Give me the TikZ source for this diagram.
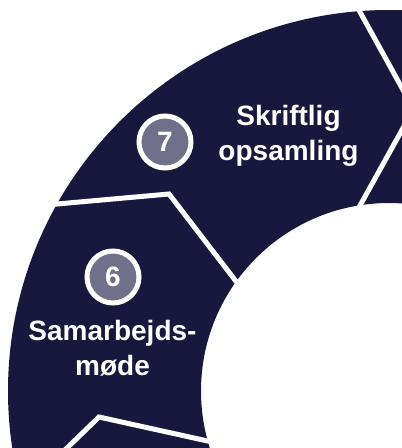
\documentclass[tikz,border=0pt]{standalone}
\usepackage{fontspec}
\setsansfont{Liberation Sans}

\definecolor{ringblue}{RGB}{24,23,62}
\definecolor{stepgrey}{RGB}{113,112,138}

\begin{document}
\begin{tikzpicture}[x=1pt,y=-1pt,
        num/.style = {circle,draw = white,line width = 5pt,fill = stepgrey,text = white,minimum size = 52pt,inner sep = 0pt,font = \sffamily\bfseries\fontsize{28}{35}\selectfont},
        lbl/.style = {align = center,anchor = base,text = white,inner sep = 0pt,font = \sffamily\bfseries\fontsize{28}{35}\selectfont},
        sep/.style = {white,line width = 5pt}]

            %\draw [help lines] (0,0) grid (402,448);

            \useasboundingbox (0,0) rectangle (402,448);
            \clip (0,0) rectangle (402,448);

            \fill[ringblue,even odd rule] (389,391) circle (381pt) (389,391) circle (188pt);

            \path   (351.6,-3.2) coordinate (a1)
                    (413.6,109) coordinate (a2)
                    (354,216.4) coordinate (a3)
                    (45.8,205) coordinate (b1)
                    (169,194) coordinate (b2)
                    (241.6,288.6) coordinate (b3)
                    (50,464.5) coordinate (c1)
                    (99,417) coordinate (c2)
                    (218,443.3) coordinate (c3);

            \draw[sep] (a1) -- (a2) -- (a3);
            \draw[sep] (b1) -- (b2) -- (b3);
            \draw[sep] (c1) -- (c2) -- (c3);

            % base = last line
            \path   (165,142) node (seven) [num] {7}
                    (288.5,160.5) node (opsamling) [lbl] {Skriftlig\\opsamling}
                    (113,277) node (six) [num] {6}
                    (112.5,375) node (moede) [lbl] {Samarbejds-\\møde};
        \end{tikzpicture}
\end{document}
